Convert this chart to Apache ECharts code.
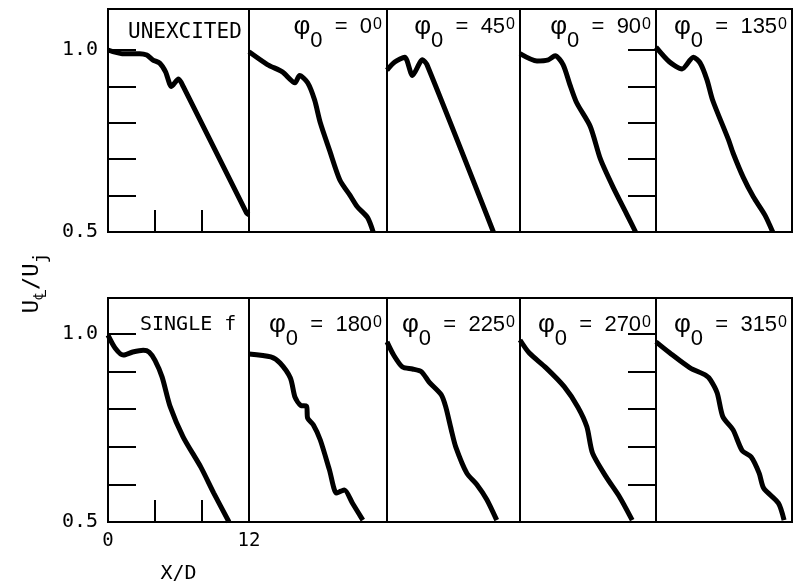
<!DOCTYPE html>
<html>
<head>
<meta charset="utf-8">
<script src="https://cdn.jsdelivr.net/npm/echarts@6/dist/echarts.min.js"></script>
<style>
    html, body { margin: 0; padding: 0; background: #fff; }
    #main { width: 794px; height: 585px; }
</style>
</head>
<body>
<div id="main"></div>
<script>
// centreline velocity decay, X/D vs U_cl/U_j, one panel per phase
var xTicks = [4, 8];
var xLabels = [0, 12];
var yTicks = [0.6, 0.7, 0.8, 0.9, 1.0];
var yLabels = [0.5, 1.0];

var panelNames = ['UNEXCITED', '0', '45', '90', '135', 'SINGLE f', '180', '225', '270', '315'];

var xUnexcited = [0, 1.2, 2.7, 3.3, 3.8, 4.4, 4.9, 5.4, 6.0, 6.4, 11.8, 12];
var yUnexcited = [1.0, 0.99, 0.99, 0.986, 0.973, 0.964, 0.94, 0.90, 0.92, 0.90, 0.552, 0.547];

var x0 = [0, 1.6, 2.9, 4.0, 4.4, 5.1, 5.7, 6.2, 7.0, 7.9, 8.8, 9.4, 10.3, 10.8];
var y0 = [0.995, 0.96, 0.94, 0.91, 0.93, 0.91, 0.863, 0.80, 0.725, 0.643, 0.60, 0.57, 0.54, 0.5];

var x45 = [0, 0.7, 1.6, 2.3, 3.2, 3.6, 9.6];
var y45 = [0.945, 0.967, 0.98, 0.93, 0.973, 0.96, 0.5];

var x90 = [0, 1.5, 2.5, 3.1, 3.8, 4.4, 5.0, 6.2, 7.1, 8.2, 9.4, 10.2];
var y90 = [0.99, 0.97, 0.973, 0.984, 0.96, 0.905, 0.855, 0.79, 0.70, 0.624, 0.55, 0.5];

var x135 = [0, 1.2, 2.3, 3.3, 3.9, 4.5, 5.0, 6.4, 6.8, 7.7, 8.6, 9.6, 10.3];
var y135 = [1.008, 0.967, 0.948, 0.98, 0.964, 0.918, 0.862, 0.753, 0.717, 0.65, 0.596, 0.547, 0.5];

var xSingle = [0, 0.6, 1.3, 2.1, 3.0, 3.5, 4.0, 4.6, 5.3, 6.4, 7.9, 9.0, 10.3];
var ySingle = [0.997, 0.963, 0.944, 0.952, 0.957, 0.952, 0.93, 0.886, 0.806, 0.726, 0.646, 0.577, 0.5];

var x180 = [0, 1.9, 2.7, 3.6, 4.0, 4.5, 5.0, 5.1, 5.6, 6.2, 7.0, 7.6, 8.0, 8.3, 9.0, 9.9];
var y180 = [0.947, 0.939, 0.923, 0.883, 0.832, 0.81, 0.808, 0.776, 0.758, 0.718, 0.638, 0.577, 0.582, 0.585, 0.55, 0.505];

var x225 = [0, 0.6, 1.4, 2.3, 3.1, 3.8, 4.9, 5.3, 5.8, 6.2, 7.2, 8.1, 9.0, 9.9];
var y225 = [0.979, 0.944, 0.912, 0.907, 0.9, 0.872, 0.838, 0.806, 0.745, 0.70, 0.63, 0.6, 0.56, 0.505];

var x270 = [0, 0.8, 2.3, 3.9, 5.1, 5.9, 6.4, 7.6, 8.8, 9.9];
var y270 = [0.984, 0.95, 0.91, 0.86, 0.806, 0.753, 0.683, 0.62, 0.566, 0.505];

var x315 = [0, 1.2, 3.0, 4.4, 4.8, 5.4, 5.9, 6.8, 7.6, 8.4, 9.1, 9.5, 10.8, 11.3];
var y315 = [0.979, 0.95, 0.91, 0.89, 0.878, 0.843, 0.78, 0.745, 0.69, 0.673, 0.63, 0.59, 0.55, 0.505];

var curves = [
    [xUnexcited, yUnexcited], [x0, y0], [x45, y45], [x90, y90], [x135, y135],
    [xSingle, ySingle], [x180, y180], [x225, y225], [x270, y270], [x315, y315]
];

// layout
var colLeft = [108, 249, 387, 520, 656];
var colRight = [249, 387, 520, 656, 792];
var rowTop = [9, 298];
var rowBottom = [232, 522];
var rowMax = [1.1126, 1.0957];

var monoFont = 'DejaVu Sans Mono';
var sansFont = 'Liberation Sans';

function zip(xs, ys) {
    var out = [];
    for (var i = 0; i < xs.length; i++) {
        out.push([xs[i], ys[i]]);
    }
    return out;
}

var grids = [], xAxes = [], yAxes = [], series = [], titles = [];

for (var i = 0; i < 10; i++) {
    var r = Math.floor(i / 5), c = i % 5;
    grids.push({
        left: colLeft[c],
        width: colRight[c] - colLeft[c],
        top: rowTop[r],
        height: rowBottom[r] - rowTop[r],
        show: true,
        borderColor: '#000',
        borderWidth: 2,
        backgroundColor: 'transparent'
    });
    xAxes.push({
        gridIndex: i,
        type: 'value',
        min: 0,
        max: 12,
        axisLine: { show: false },
        splitLine: { show: false },
        axisTick: {
            show: c === 0,
            inside: true,
            length: 22,
            customValues: xTicks,
            lineStyle: { color: '#000', width: 2 }
        },
        axisLabel: {
            show: i === 5,
            customValues: xLabels,
            margin: 10,
            color: '#000',
            fontFamily: monoFont,
            fontSize: 19
        },
        name: i === 5 ? 'X/D' : '',
        nameLocation: 'middle',
        nameGap: 42,
        nameTextStyle: { color: '#000', fontFamily: monoFont, fontSize: 20 }
    });
    yAxes.push({
        gridIndex: i,
        type: 'value',
        min: 0.5,
        max: rowMax[r],
        position: c === 4 ? 'right' : 'left',
        axisLine: { show: false },
        splitLine: { show: false },
        axisTick: {
            show: c === 0 || c === 4,
            inside: true,
            length: 28,
            customValues: yTicks,
            lineStyle: { color: '#000', width: 2 }
        },
        axisLabel: {
            show: c === 0,
            customValues: yLabels,
            margin: 10,
            color: '#000',
            fontFamily: monoFont,
            fontSize: 20,
            formatter: function (v) { return v.toFixed(1); }
        }
    });
    series.push({
        type: 'line',
        xAxisIndex: i,
        yAxisIndex: i,
        data: zip(curves[i][0], curves[i][1]),
        showSymbol: false,
        smooth: 0.25,
        clip: true,
        lineStyle: { color: '#000', width: 5 },
        silent: true
    });

    if (c === 0) {
        titles.push({
            text: panelNames[i],
            left: i === 0 ? 128 : 140,
            top: i === 0 ? 21 : 313,
            padding: 0,
            textStyle: { fontFamily: monoFont, fontSize: i === 0 ? 21 : 20, fontWeight: 'normal', color: '#000', lineHeight: 24 }
        });
    } else {
        titles.push({
            text: '{f|φ}{s|0}{m|  =  ' + panelNames[i] + '}{p|0}',
            right: 794 - (colRight[c] - 5),
            top: r === 0 ? 2 : 300,
            padding: 0,
            textStyle: {
                fontWeight: 'normal',
                rich: {
                    f: { fontFamily: sansFont, fontSize: 26, fontWeight: 'normal', lineHeight: 50, color: '#000' },
                    m: { fontFamily: sansFont, fontSize: 22, fontWeight: 'normal', lineHeight: 50, color: '#000' },
                    s: { fontFamily: sansFont, fontSize: 22, fontWeight: 'normal', lineHeight: 20, verticalAlign: 'bottom', color: '#000' },
                    p: { fontFamily: sansFont, fontSize: 16, fontWeight: 'normal', lineHeight: 16, verticalAlign: 'top', padding: [15, 0, 0, 1], color: '#000' }
                }
            }
        });
    }
}

var chart = echarts.init(document.getElementById('main'), null, { renderer: 'canvas' });
chart.setOption({
    backgroundColor: '#fff',
    animation: false,
    title: titles,
    grid: grids,
    xAxis: xAxes,
    yAxis: yAxes,
    series: series,
    graphic: [{
        type: 'text',
        x: 32,
        y: 283,
        rotation: Math.PI / 2,
        style: {
            text: '{m|U}{s|℄}{m|/U}{s|j}',
            align: 'center',
            verticalAlign: 'middle',
            rich: {
                m: { fontFamily: monoFont, fontSize: 22, lineHeight: 36, fill: '#000' },
                s: { fontFamily: monoFont, fontSize: 18, lineHeight: 20, verticalAlign: 'bottom', fill: '#000' }
            }
        }
    }]
});
</script>
</body>
</html>
